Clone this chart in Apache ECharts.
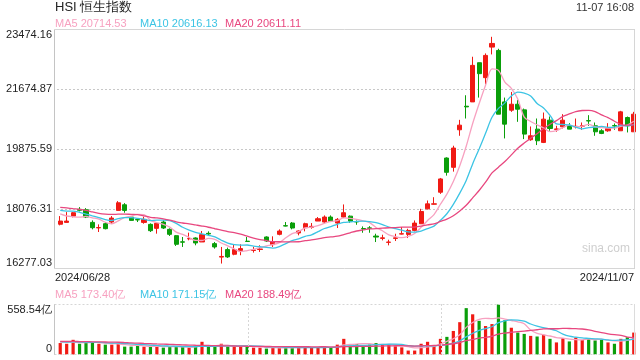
<!DOCTYPE html>
<html><head><meta charset="utf-8">
<script src="https://cdn.jsdelivr.net/npm/echarts@6/dist/echarts.min.js"></script>
<style>html,body{margin:0;padding:0;background:#fff}#c{width:640px;height:360px}</style>
</head><body><div id="c"></div>
<script>
const dates = ['2024/06/28',
'2024/07/02','2024/07/03','2024/07/04','2024/07/05','2024/07/08','2024/07/09','2024/07/10','2024/07/11','2024/07/12','2024/07/15','2024/07/16','2024/07/17','2024/07/18','2024/07/19','2024/07/22','2024/07/23','2024/07/24','2024/07/25','2024/07/26','2024/07/29','2024/07/30','2024/07/31',
'2024/08/01','2024/08/02','2024/08/05','2024/08/06','2024/08/07','2024/08/08','2024/08/09','2024/08/12','2024/08/13','2024/08/14','2024/08/15','2024/08/16','2024/08/19','2024/08/20','2024/08/21','2024/08/22','2024/08/23','2024/08/26','2024/08/27','2024/08/28','2024/08/29','2024/08/30',
'2024/09/02','2024/09/03','2024/09/04','2024/09/05','2024/09/09','2024/09/10','2024/09/11','2024/09/12','2024/09/13','2024/09/16','2024/09/17','2024/09/19','2024/09/20','2024/09/23','2024/09/24','2024/09/25','2024/09/26','2024/09/27','2024/09/30',
'2024/10/02','2024/10/03','2024/10/04','2024/10/07','2024/10/08','2024/10/09','2024/10/10','2024/10/14','2024/10/15','2024/10/16','2024/10/17','2024/10/18','2024/10/21','2024/10/22','2024/10/23','2024/10/24','2024/10/25','2024/10/28','2024/10/29','2024/10/30','2024/10/31',
'2024/11/01','2024/11/04','2024/11/05','2024/11/06','2024/11/07'];

const opens = [17610,17666,17856,18060,18046,17666,17500,17626,17676,18026,18196,17826,17750,17666,17606,17486,17676,17456,17266,17080,17170,17196,17076,
17336,17026,16620,16846,16706,16816,17100,16820,16850,17226,16996,17306,17566,17646,17346,17506,17516,17706,17676,17826,17646,17826,
17854,17690,17480,17500,17254,17184,17064,17184,17314,17304,17424,17624,18074,18214,18574,19604,19324,20454,21164,
21294,22474,22024,22944,22844,21294,21044,21224,21054,20154,20474,20074,20744,20464,20544,20574,20544,20564,20730,20574,20424,
20424,20580,20424,20824,20394];
const closes = [17706,17706,17956,18030,17826,17506,17510,17476,17796,18256,18026,17726,17740,17756,17416,17636,17496,17306,17006,17070,17180,17046,17296,
17316,16926,16640,16626,16846,16876,17090,16835,16865,17106,17076,17406,17556,17496,17406,17626,17546,17776,17826,17696,17756,17956,
17704,17680,17470,17490,17224,17200,17074,17200,17324,17424,17644,17994,18224,18224,18974,19174,19904,20594,21144,
22394,22144,22694,23054,20924,20624,21224,21074,20324,20274,20124,20774,20494,20480,20744,20474,20560,20580,20720,20394,20344,
20494,20570,20994,20574,20924];
const lows = [17576,17660,17816,17996,17796,17456,17376,17456,17626,18026,17956,17726,17676,17626,17376,17326,17466,17256,16956,16926,17126,16976,17076,
17256,16876,16426,16596,16676,16676,17080,16756,16776,17076,16926,17276,17546,17456,17276,17396,17476,17706,17626,17676,17496,17796,
17654,17594,17354,17354,17074,17124,16974,17104,17304,17194,17394,17624,18054,18204,18524,19074,19194,20274,20794,
21294,21424,21824,22724,20924,20194,20994,20694,20174,20124,19994,20054,20424,20394,20494,20474,20494,20454,20574,20274,20324,
20394,20454,20424,20374,20394];
const highs = [17856,17976,17976,18126,18096,17726,17606,17676,17856,18306,18246,17856,17796,17836,17636,17676,17726,17486,17286,17226,17356,17216,17406,
17396,17076,16926,16906,16996,17006,17226,16926,16976,17246,17246,17456,17676,17676,17426,17656,17646,17826,17876,17876,17796,18206,
17874,17724,17544,17554,17324,17294,17144,17324,17524,17474,17724,18074,18324,18424,19004,19624,19974,20754,21494,
22654,22474,22754,23254,22894,21424,21594,21354,21094,20554,20794,20974,20854,20574,20924,20654,20794,20674,20894,20674,20474,
20654,20644,21024,20854,20994];
// 亿
const volumes = [128,120,164,120,135,135,120,110,110,120,88,88,99,88,99,88,77,88,88,88,77,88,142,
88,88,120,88,88,88,88,77,77,66,77,77,77,77,77,88,77,77,91,84,110,175,
99,117,102,110,128,110,110,91,80,44,44,120,142,102,175,197,263,361,518,
449,376,318,340,558.54,383,299,245,230,208,201,219,175,135,183,146,190,161,183,157,164,
135,120,175,193,245];
// closes / volumes of the 19 sessions before the first candle (only used for the moving averages)
const preCloses = [18079,18403,18444,18424,18476,18366,17940,17937,18112,17942,17936,17915,18430,18335,18028,18027,18072,18089,17716];
const preVolumes = [150,160,140,155,170,130,145,150,135,160,175,140,150,155,145,130,140,150,135];

const yTicks = [16277.03, 18076.31, 19875.59, 21674.87, 23474.16];
const volMax = 558.54;
const maPeriods = [5, 10, 20];
const maLegendValues = ['20714.53', '20616.13', '20611.11'];
const volLegendValues = ['173.40亿', '171.15亿', '188.49亿'];
const titleText = 'HSI 恒生指数';
const timeText = '11-07 16:08';

const RED = '#f01a14', GREEN = '#0a9e0a';
const maColors = ['#f7a1c0', '#3cc4e4', '#e8477f'];

function ma(pre, vals, n) {
  const all = pre.concat(vals), out = [];
  for (let i = 0; i < vals.length; i++) {
    const end = pre.length + i;
    let s = 0;
    for (let k = end - n + 1; k <= end; k++) s += all[k];
    out.push(+(s / n).toFixed(2));
  }
  return out;
}
// show the tick label exactly as listed in yTicks
function tickLabel(v) {
  let best = yTicks[0];
  yTicks.forEach(t => { if (Math.abs(t - v) < Math.abs(best - v)) best = t; });
  return best.toFixed(2);
}

const kData = dates.map((d, i) => [opens[i], closes[i], lows[i], highs[i]]);
const volData = volumes.map((v, i) => ({value: v, itemStyle: {color: closes[i] >= opens[i] ? RED : GREEN}}));

const FONT = 'Liberation Sans, Arial, sans-serif';
const series = [{
  type: 'candlestick', xAxisIndex: 0, yAxisIndex: 0, data: kData, barWidth: 4.6,
  itemStyle: {color: RED, color0: GREEN, borderColor: RED, borderColor0: GREEN, borderWidth: 1},
  emphasis: {disabled: true}
}];
maPeriods.forEach((p, j) => {
  series.push({type: 'line', xAxisIndex: 0, yAxisIndex: 0, data: ma(preCloses, closes, p), showSymbol: false, smooth: 0.3,
    lineStyle: {color: maColors[j], width: 1.3}, z: 5, silent: true});
});
series.push({type: 'bar', xAxisIndex: 1, yAxisIndex: 1, data: volData, barWidth: 3.2, silent: true});
maPeriods.forEach((p, j) => {
  series.push({type: 'line', xAxisIndex: 1, yAxisIndex: 1, data: ma(preVolumes, volumes, p), showSymbol: false, smooth: 0.3,
    lineStyle: {color: maColors[j], width: 1.3}, z: 5, silent: true});
});

const legendX = [55, 140, 225];
const graphic = [
  {type: 'text', left: 55, top: 1, style: {text: titleText, font: '13px ' + FONT, fill: '#222'}},
  {type: 'text', right: 6, top: 2, style: {text: timeText, font: '11px ' + FONT, fill: '#333'}},
  // frames
  {type: 'line', shape: {x1: 54.5, y1: 29.5, x2: 634.5, y2: 29.5}, style: {stroke: '#d6d6d6', lineWidth: 1}, z: 100, silent: true},
  {type: 'line', shape: {x1: 54.5, y1: 268.5, x2: 634.5, y2: 268.5}, style: {stroke: '#d6d6d6', lineWidth: 1}, z: 100, silent: true},
  {type: 'line', shape: {x1: 634.5, y1: 29.5, x2: 634.5, y2: 268.5}, style: {stroke: '#d6d6d6', lineWidth: 1}, z: 100, silent: true},
  {type: 'line', shape: {x1: 54.5, y1: 29.5, x2: 54.5, y2: 268.5}, style: {stroke: '#c4c4c4', lineWidth: 1}, z: 101, silent: true},
  {type: 'line', shape: {x1: 54.5, y1: 304, x2: 54.5, y2: 355}, style: {stroke: '#c4c4c4', lineWidth: 1}, z: 101, silent: true},
  {type: 'line', shape: {x1: 634.5, y1: 304, x2: 634.5, y2: 355}, style: {stroke: '#dcdcdc', lineWidth: 1}, z: 101, silent: true},
  {type: 'line', shape: {x1: 54.5, y1: 304.5, x2: 634.5, y2: 304.5}, style: {stroke: '#d6d6d6', lineWidth: 1, lineDash: [2, 2]}, z: 101, silent: true},
  {type: 'line', shape: {x1: 54.5, y1: 354.5, x2: 634.5, y2: 354.5}, style: {stroke: '#d6d6d6', lineWidth: 1, lineDash: [2, 2]}, z: 101, silent: true},
  {type: 'line', shape: {x1: 248.5, y1: 304, x2: 248.5, y2: 355}, style: {stroke: '#d6d6d6', lineWidth: 1, lineDash: [2, 2]}, z: 101, silent: true},
  {type: 'line', shape: {x1: 441.5, y1: 304, x2: 441.5, y2: 355}, style: {stroke: '#d6d6d6', lineWidth: 1, lineDash: [2, 2]}, z: 101, silent: true},
  // dates
  {type: 'text', left: 55, top: 272, style: {text: dates[0], font: '11px ' + FONT, fill: '#222'}},
  {type: 'text', right: 6, top: 272, style: {text: dates[dates.length - 1], font: '11px ' + FONT, fill: '#222'}},
  {type: 'text', left: 582, top: 243, style: {text: 'sina.com', font: '12px ' + FONT, fill: '#cfcfcf'}}
];
maPeriods.forEach((p, j) => {
  graphic.push({type: 'text', left: legendX[j], top: 18, style: {text: 'MA' + p + ' ' + maLegendValues[j], font: '11px ' + FONT, fill: maColors[j]}});
  graphic.push({type: 'text', left: legendX[j], top: 289, style: {text: 'MA' + p + ' ' + volLegendValues[j], font: '11px ' + FONT, fill: maColors[j]}});
});

const chart = echarts.init(document.getElementById('c'), null, {renderer: 'canvas'});
chart.setOption({
  animation: false,
  backgroundColor: '#fff',
  grid: [
    {left: 57, right: 3, top: 29.5, height: 239},
    {left: 57, right: 3, top: 304.5, height: 50}
  ],
  xAxis: [
    {type: 'category', gridIndex: 0, data: dates, boundaryGap: true, axisLine: {show: false}, axisTick: {show: false}, axisLabel: {show: false}, splitLine: {show: false}},
    {type: 'category', gridIndex: 1, data: dates, boundaryGap: true, axisLine: {show: false}, axisTick: {show: false}, axisLabel: {show: false}, splitLine: {show: false}}
  ],
  yAxis: [
    {type: 'value', gridIndex: 0, min: yTicks[0], max: yTicks[yTicks.length - 1], interval: (yTicks[4] - yTicks[0]) / 4,
      axisLine: {show: false}, axisTick: {show: false},
      axisLabel: {margin: 5, color: '#222', fontSize: 11, fontFamily: FONT, formatter: tickLabel,
        verticalAlignMinLabel: 'bottom', verticalAlignMaxLabel: 'top'},
      splitLine: {show: true, lineStyle: {color: '#c8c8c8', width: 1, type: [2, 2]}}},
    {type: 'value', gridIndex: 1, min: 0, max: volMax, interval: volMax,
      axisLine: {show: false}, axisTick: {show: false},
      axisLabel: {margin: 5, color: '#222', fontSize: 11, fontFamily: FONT, formatter: v => v === 0 ? '0' : v.toFixed(2) + '亿',
        verticalAlignMinLabel: 'bottom', verticalAlignMaxLabel: 'top'},
      splitLine: {show: false}}
  ],
  series: series,
  graphic: graphic
});
</script></body></html>
